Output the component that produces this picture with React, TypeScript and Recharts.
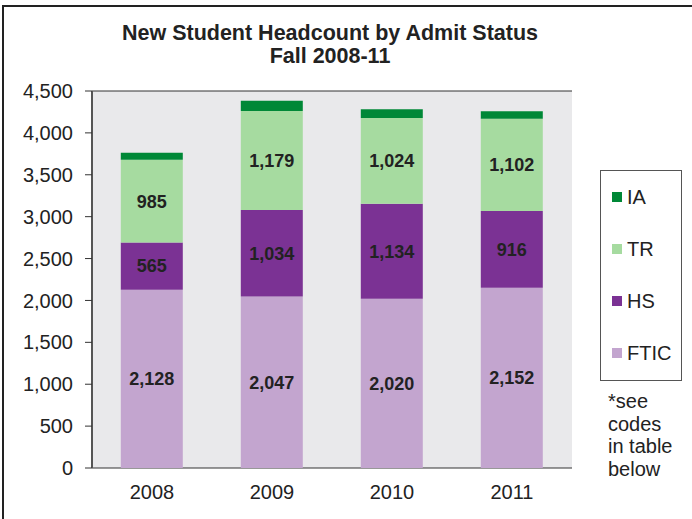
import React from 'react';
import { BarChart, Bar, XAxis, YAxis, CartesianGrid, LabelList } from 'recharts';

const years = ['2008', '2009', '2010', '2011'];
const ftic = [2128, 2047, 2020, 2152];
const hs = [565, 1034, 1134, 916];
const tr = [985, 1179, 1024, 1102];
const ia = [85, 125, 104, 88];
const yTicks = [0, 500, 1000, 1500, 2000, 2500, 3000, 3500, 4000, 4500];
const boundaryTicks = [0, 1, 2, 3, 4];

const COLORS = { FTIC: '#c3a5cf', HS: '#7b3294', TR: '#a6dba0', IA: '#008837' };
const legendOrder = ['IA', 'TR', 'HS', 'FTIC'];

const data = years.map((y, i) => ({ year: y, idx: i, FTIC: ftic[i], HS: hs[i], TR: tr[i], IA: ia[i] }));

const fmt = (v: number) => v.toLocaleString('en-US');
const FONT = '"Liberation Sans", Arial, sans-serif';

const LegendBox = () => (
  <div style={{ position: 'absolute', left: 600, top: 170, fontFamily: FONT, textAlign: 'left' }}>
    <div style={{ width: 82, height: 211, border: '1px solid #555', boxSizing: 'border-box', background: '#fff' }}>
      {legendOrder.map((k) => (
        <div key={k} style={{ display: 'flex', alignItems: 'center', height: 52 }}>
          <span style={{ display: 'inline-block', width: 10, height: 10, background: (COLORS as any)[k], marginLeft: 11, marginRight: 5 }} />
          <span style={{ fontSize: 20, color: '#222' }}>{k}</span>
        </div>
      ))}
    </div>
    <div style={{ fontSize: 20, color: '#222', lineHeight: '22.5px', marginTop: 9, marginLeft: 8, width: 84 }}>
      *see<br />codes<br />in table<br />below
    </div>
  </div>
);

export default function App() {
  return (
    <div style={{ position: 'absolute', left: 0, top: 0, width: 692, height: 519, background: '#fff', overflow: 'hidden', fontFamily: FONT }}>
      <div style={{ position: 'absolute', left: 2, top: 5, width: 720, height: 540, border: '2px solid #222', boxSizing: 'border-box' }} />
      <div style={{ position: 'absolute', left: 0, top: 22, width: 660, textAlign: 'center', fontWeight: 'bold', fontSize: 21.5, lineHeight: '23px', color: '#222' }}>
        New Student Headcount by Admit Status<br />Fall 2008-11
      </div>
      <div style={{ position: 'absolute', left: 0, top: 0 }}>
        <BarChart width={692} height={519} data={data} margin={{ top: 91, right: 120, left: 0, bottom: 21 }} barCategoryGap="24%">
          <CartesianGrid vertical={false} horizontal={true} stroke="#333" fill="#e9e9eb" />
          <XAxis xAxisId="b" type="number" dataKey="idx" domain={[0, 4]} ticks={boundaryTicks} height={0} axisLine={{ stroke: '#444', strokeWidth: 1.5 }} tickLine={{ stroke: '#444' }} tickSize={6} tickFormatter={() => ''} allowDataOverflow />
          <XAxis xAxisId="cat" dataKey="year" height={30} axisLine={false} tickLine={false} tick={{ fill: '#222', fontSize: 20, fontFamily: FONT }} tickMargin={11} />
          <YAxis yAxisId="l" width={92} domain={[0, 4500]} ticks={yTicks} tickFormatter={fmt} axisLine={{ stroke: '#555', strokeWidth: 2 }} tickLine={{ stroke: '#333' }} tickSize={7} tickMargin={12} tick={{ fill: '#222', fontSize: 20, fontFamily: FONT }} interval={0} />
          <YAxis yAxisId="r" orientation="right" width={0} domain={[0, 4500]} ticks={yTicks} tick={false} tickLine={false} axisLine={{ stroke: '#999', strokeWidth: 2 }} />
          <Bar xAxisId="cat" yAxisId="l" dataKey="FTIC" stackId="s" fill={COLORS.FTIC} isAnimationActive={false}>
            <LabelList dataKey="FTIC" position="center" formatter={(v: any) => fmt(Number(v))} style={{ fill: '#222', fontWeight: 'bold', fontSize: 18, fontFamily: FONT }} />
          </Bar>
          <Bar xAxisId="cat" yAxisId="l" dataKey="HS" stackId="s" fill={COLORS.HS} isAnimationActive={false}>
            <LabelList dataKey="HS" position="center" formatter={(v: any) => fmt(Number(v))} style={{ fill: '#222', fontWeight: 'bold', fontSize: 18, fontFamily: FONT }} />
          </Bar>
          <Bar xAxisId="cat" yAxisId="l" dataKey="TR" stackId="s" fill={COLORS.TR} isAnimationActive={false}>
            <LabelList dataKey="TR" position="center" formatter={(v: any) => fmt(Number(v))} style={{ fill: '#222', fontWeight: 'bold', fontSize: 18, fontFamily: FONT }} />
          </Bar>
          <Bar xAxisId="cat" yAxisId="l" dataKey="IA" stackId="s" fill={COLORS.IA} isAnimationActive={false} />
        </BarChart>
      </div>
      <LegendBox />
    </div>
  );
}
